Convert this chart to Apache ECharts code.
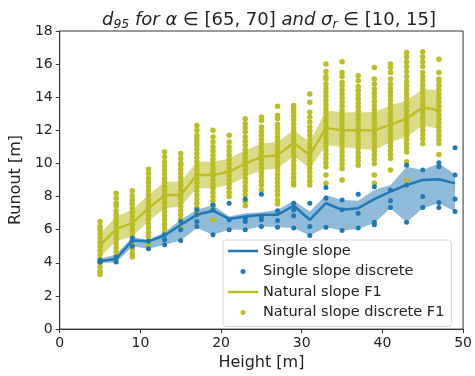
<!DOCTYPE html>
<html>
<head>
<meta charset="utf-8">
<script src="https://cdn.jsdelivr.net/npm/echarts@6/dist/echarts.min.js"></script>
<style>
  html, body { margin: 0; padding: 0; background: #fff; }
  #chart { width: 475px; height: 376px; }
</style>
</head>
<body>
<div id="chart"></div>
<script>
// heights (x) for each slope type
const singleHeights = [5, 7, 9, 11, 13, 15, 17, 19, 21, 23, 25, 27, 29, 31, 33, 35, 37, 39, 41, 43, 45, 47, 49]
const naturalHeights = [5, 7, 9, 11, 13, 15, 17, 19, 21, 23, 25, 27, 29, 31, 33, 35, 37, 39, 41, 43, 45, 47]

// single slope: mean line and band
const singleMean = [4.1, 4.25, 5.35, 5.3, 5.65, 6.3, 6.9, 7.15, 6.65, 6.8, 6.9, 6.9, 7.45, 6.6, 7.6, 7.2, 7.3, 7.85, 8.3, 8.7, 9.0, 9.05, 8.8]
const singleLower = [4.0, 4.0, 5.0, 4.85, 5.1, 5.35, 6.1, 5.7, 6.0, 6.0, 6.2, 6.15, 6.1, 5.65, 6.15, 5.95, 6.05, 6.4, 7.3, 6.45, 7.3, 7.6, 7.1]
const singleUpper = [4.25, 4.5, 5.55, 5.4, 5.85, 6.6, 7.2, 7.5, 6.8, 7.0, 7.05, 7.2, 7.75, 7.1, 8.1, 7.8, 7.75, 8.4, 8.7, 9.8, 9.6, 10.0, 9.35]

// natural slope F1: mean line and band
const naturalMean = [5.05, 6.05, 6.4, 7.3, 8.1, 8.1, 9.3, 9.3, 9.5, 10.0, 10.4, 10.5, 11.25, 10.5, 12.15, 12.0, 12.0, 12.0, 12.35, 12.7, 13.4, 13.2]
const naturalLower = [4.35, 5.3, 5.6, 6.5, 7.3, 7.4, 8.5, 8.5, 8.7, 9.2, 9.6, 9.7, 10.45, 9.7, 11.1, 11.0, 10.9, 10.8, 11.3, 11.6, 12.3, 12.1]
const naturalUpper = [5.75, 6.8, 7.2, 8.1, 8.9, 8.9, 10.1, 10.1, 10.3, 10.8, 11.2, 11.3, 12.0, 11.3, 13.2, 13.1, 13.1, 13.1, 13.5, 13.8, 14.5, 14.4]

// discrete runs, one list per height
const singleDiscrete = [
  [4.05, 4.1, 4.15],
  [4.05, 4.35],
  [5.0, 5.35, 5.5],
  [4.85, 5.3],
  [5.1, 5.4, 5.7],
  [5.35, 6.0, 6.5],
  [6.2, 6.5, 6.9, 7.2],
  [5.7, 7.2, 7.5],
  [6.0, 6.6, 7.6],
  [6.0, 6.5, 6.7, 7.85],
  [6.2, 6.6, 6.8, 8.15],
  [6.15, 6.55, 7.15],
  [6.1, 6.85, 7.2, 7.6],
  [5.65, 6.2, 7.6],
  [6.15, 7.9, 8.55],
  [5.95, 7.2, 7.8],
  [6.1, 7.0, 8.15],
  [6.3, 6.45, 8.6],
  [7.35, 7.75, 8.4],
  [6.45, 8.7, 9.9],
  [7.35, 8.0, 9.6],
  [7.35, 7.65, 9.8, 10.05],
  [7.1, 7.85, 9.3, 10.95]
]

const naturalDiscrete = [
  [3.3, 3.5, 3.75, 4.0, 4.25, 4.5, 4.75, 5.0, 5.25, 5.5, 5.75, 6.0, 6.2, 6.5],
  [4.2, 4.4, 4.65, 4.9, 5.15, 5.4, 5.65, 5.9, 6.15, 6.4, 6.65, 6.9, 7.15, 7.45, 7.6, 7.9, 8.2],
  [4.35, 4.55, 4.8, 5.1, 5.3, 5.55, 5.8, 6.05, 6.3, 6.55, 6.8, 7.05, 7.3, 7.55, 7.8, 8.05, 8.35],
  [5.1, 5.35, 5.6, 5.85, 6.1, 6.35, 6.6, 6.85, 7.1, 7.35, 7.6, 7.85, 8.1, 8.35, 8.6, 8.85, 9.1, 9.4, 9.65],
  [5.85, 6.1, 6.35, 6.6, 6.85, 7.1, 7.35, 7.6, 7.85, 8.1, 8.35, 8.6, 8.85, 9.1, 9.35, 9.6, 9.85, 10.1, 10.4, 10.7],
  [6.15, 6.4, 6.65, 6.9, 7.15, 7.4, 7.65, 7.9, 8.15, 8.4, 8.65, 8.9, 9.15, 9.4, 9.65, 9.9, 10.0, 10.3, 10.6],
  [7.1, 7.35, 7.6, 7.85, 8.1, 8.35, 8.6, 8.85, 9.1, 9.35, 9.6, 9.85, 10.1, 10.35, 10.6, 10.85, 11.1, 11.3, 11.5, 11.7, 12.0, 12.3],
  [6.6, 7.3, 7.5, 7.75, 8.0, 8.25, 8.5, 8.75, 9.0, 9.25, 9.5, 9.75, 10.0, 10.25, 10.5, 10.75, 11.0, 11.3, 11.6, 12.0],
  [8.0, 8.25, 8.5, 8.75, 9.0, 9.25, 9.5, 9.75, 10.0, 10.25, 10.5, 10.75, 11.0, 11.3, 11.7],
  [7.45, 7.7, 8.1, 8.35, 8.6, 8.85, 9.1, 9.35, 9.6, 9.85, 10.1, 10.35, 10.6, 10.85, 11.1, 11.35, 11.6, 11.9, 12.15, 12.4, 12.7],
  [8.4, 8.7, 8.95, 9.2, 9.45, 9.7, 9.95, 10.2, 10.45, 10.7, 10.95, 11.2, 11.45, 11.7, 11.95, 12.2, 12.6, 12.8],
  [7.55, 7.8, 8.1, 8.35, 8.6, 8.85, 9.1, 9.35, 9.6, 9.85, 10.1, 10.35, 10.6, 10.85, 11.1, 11.35, 11.6, 11.85, 12.1, 12.35, 12.7, 12.9, 13.45],
  [8.7, 8.9, 9.15, 9.4, 9.65, 9.9, 10.15, 10.4, 10.65, 10.9, 11.15, 11.4, 11.65, 11.9, 12.15, 12.4, 12.65, 12.9, 13.1, 13.3, 13.5],
  [8.7, 8.95, 9.2, 9.45, 9.7, 9.95, 10.2, 10.45, 10.7, 10.95, 11.2, 11.45, 11.7, 11.95, 12.2, 12.5, 12.8, 13.1, 13.7, 14.2],
  [8.8, 9.3, 9.8, 10.05, 10.3, 10.55, 10.8, 11.05, 11.3, 11.55, 11.8, 12.05, 12.3, 12.55, 12.8, 13.05, 13.3, 13.55, 13.8, 14.05, 14.3, 14.55, 14.8, 15.1, 15.25, 15.55, 16.0],
  [9.0, 9.7, 9.95, 10.2, 10.45, 10.7, 10.95, 11.2, 11.45, 11.7, 11.95, 12.2, 12.45, 12.7, 12.95, 13.2, 13.45, 13.7, 13.95, 14.2, 14.45, 14.7, 14.9, 15.25, 15.5, 16.15],
  [9.9, 10.15, 10.4, 10.65, 10.9, 11.15, 11.4, 11.65, 11.9, 12.15, 12.4, 12.65, 12.9, 13.15, 13.4, 13.65, 13.9, 14.15, 14.4, 14.65, 15.0, 15.3],
  [8.8, 9.3, 10.0, 10.25, 10.5, 10.75, 11.0, 11.25, 11.5, 11.75, 12.0, 12.25, 12.5, 12.75, 13.0, 13.25, 13.5, 13.75, 14.0, 14.25, 14.5, 14.8, 15.1, 15.8],
  [9.6, 10.3, 10.55, 10.8, 11.05, 11.3, 11.55, 11.8, 12.05, 12.3, 12.55, 12.8, 13.05, 13.3, 13.55, 13.8, 14.05, 14.3, 14.55, 14.8, 15.1, 15.5, 15.8, 16.0],
  [9.0, 10.1, 10.7, 10.95, 11.2, 11.45, 11.7, 11.95, 12.2, 12.45, 12.7, 12.95, 13.2, 13.45, 13.7, 13.95, 14.2, 14.45, 14.7, 14.95, 15.25, 15.55, 15.85, 16.15, 16.45, 16.7],
  [11.2, 11.5, 11.75, 12.0, 12.25, 12.5, 12.75, 13.0, 13.25, 13.5, 13.75, 14.0, 14.25, 14.5, 14.75, 15.0, 15.25, 15.5, 15.85, 16.15, 16.45, 16.75],
  [10.55, 11.2, 11.45, 11.7, 11.95, 12.2, 12.45, 12.7, 12.95, 13.2, 13.45, 13.7, 13.95, 14.2, 14.45, 14.7, 14.95, 15.1, 15.5, 16.3]
]

const BLUE = '#1f77b4'
const OLIVE = '#bcbd22'
const FONT = 'DejaVu Sans'
const INK = '#222'

const pairs = (xs, ys) => xs.map((x, i) => [x, ys[i]])
const triples = (xs, lo, hi) => xs.map((x, i) => [x, lo[i], hi[i]])
const columns = (xs, lists) => {
  const out = []
  xs.forEach((x, i) => lists[i].forEach(v => out.push([x, v])))
  return out
}

// band polygon: drawn once from the first item, along the upper edge and back along the lower
const bandRenderer = (fill) => (params, api) => {
  if (params.dataIndexInside !== 0) return null
  const n = params.dataInsideLength
  const top = []
  const bottom = []
  for (let i = 0; i < n; i++) {
    const x = api.value(0, i)
    top.push(api.coord([x, api.value(2, i)]))
    bottom.unshift(api.coord([x, api.value(1, i)]))
  }
  return {
    type: 'polygon',
    shape: { points: top.concat(bottom) },
    style: { fill: fill, stroke: null }
  }
}

const chart = echarts.init(document.getElementById('chart'), null, { renderer: 'canvas' })

const lineIcon = 'path://M0,0h30v2.5h-30z'

chart.setOption({
  animation: false,
  backgroundColor: '#fff',
  textStyle: { fontFamily: FONT },
  title: {
    text: '{i|d}{s|95}{i| for α }{n|∈ [65, 70]}{i| and σ}{s|r}{n| ∈ [10, 15]}',
    left: 264,
    textAlign: 'center',
    top: 4,
    textStyle: {
      fontWeight: 'normal',
      rich: {
        i: { fontFamily: FONT, fontStyle: 'italic', fontWeight: 'normal', fontSize: 18, color: INK, lineHeight: 22 },
        n: { fontFamily: FONT, fontWeight: 'normal', fontSize: 18, color: INK, lineHeight: 22 },
        s: { fontFamily: FONT, fontStyle: 'italic', fontWeight: 'normal', fontSize: 12.5, color: INK, lineHeight: 12, verticalAlign: 'bottom' }
      }
    }
  },
  grid: { left: 59, right: 9, top: 31, bottom: 43, show: true, borderColor: '#333', borderWidth: 1 },
  legend: {
    orient: 'vertical',
    left: 223,
    top: 240,
    padding: [3, 7, 6, 5],
    itemWidth: 30,
    itemHeight: 5,
    itemGap: 4.5,
    itemTextGap: 14,
    backgroundColor: 'rgba(255,255,255,0.85)',
    borderColor: '#d6d6d6',
    borderWidth: 1,
    borderRadius: 3,
    textStyle: { fontFamily: FONT, fontSize: 14.5, color: INK, lineHeight: 16 },
    data: [
      { name: 'Single slope', icon: lineIcon },
      { name: 'Single slope discrete', icon: 'circle' },
      { name: 'Natural slope F1', icon: lineIcon },
      { name: 'Natural slope discrete F1', icon: 'circle' }
    ]
  },
  xAxis: {
    type: 'value',
    min: 0,
    max: 50,
    interval: 10,
    name: 'Height [m]',
    nameLocation: 'middle',
    nameGap: 25,
    nameTextStyle: { fontFamily: FONT, fontSize: 16, color: INK },
    axisLine: { show: true, lineStyle: { color: '#333', width: 1 } },
    axisTick: { show: true, length: 4, lineStyle: { color: '#333' } },
    axisLabel: { fontFamily: FONT, fontSize: 14, color: INK, margin: 7 },
    splitLine: { show: false }
  },
  yAxis: {
    type: 'value',
    min: 0,
    max: 18,
    interval: 2,
    name: 'Runout [m]',
    nameLocation: 'middle',
    nameGap: 26,
    nameTextStyle: { fontFamily: FONT, fontSize: 16, color: INK },
    axisLine: { show: true, lineStyle: { color: '#333', width: 1 } },
    axisTick: { show: true, length: 4, lineStyle: { color: '#333' } },
    axisLabel: { fontFamily: FONT, fontSize: 14, color: INK, margin: 7 },
    splitLine: { show: false }
  },
  series: [
    {
      name: 'singleBand', type: 'custom', z: 1, silent: true,
      renderItem: bandRenderer('rgba(31,119,180,0.5)'),
      encode: { x: 0, y: [1, 2] },
      data: triples(singleHeights, singleLower, singleUpper)
    },
    {
      name: 'naturalBand', type: 'custom', z: 1, silent: true,
      renderItem: bandRenderer('rgba(188,189,34,0.55)'),
      encode: { x: 0, y: [1, 2] },
      data: triples(naturalHeights, naturalLower, naturalUpper)
    },
    {
      name: 'Natural slope discrete F1', type: 'scatter', symbolSize: 5.5, z: 2,
      itemStyle: { color: OLIVE, opacity: 1 },
      data: columns(naturalHeights, naturalDiscrete)
    },
    {
      name: 'Single slope', type: 'line', symbol: 'none', z: 3,
      lineStyle: { color: BLUE, width: 2.5 }, itemStyle: { color: BLUE },
      data: pairs(singleHeights, singleMean)
    },
    {
      name: 'Natural slope F1', type: 'line', symbol: 'none', z: 3,
      lineStyle: { color: OLIVE, width: 2.5 }, itemStyle: { color: OLIVE },
      data: pairs(naturalHeights, naturalMean)
    },
    {
      name: 'Single slope discrete', type: 'scatter', symbolSize: 5, z: 4,
      itemStyle: { color: BLUE, opacity: 1 },
      data: columns(singleHeights, singleDiscrete)
    }
  ]
})
</script>
</body>
</html>
